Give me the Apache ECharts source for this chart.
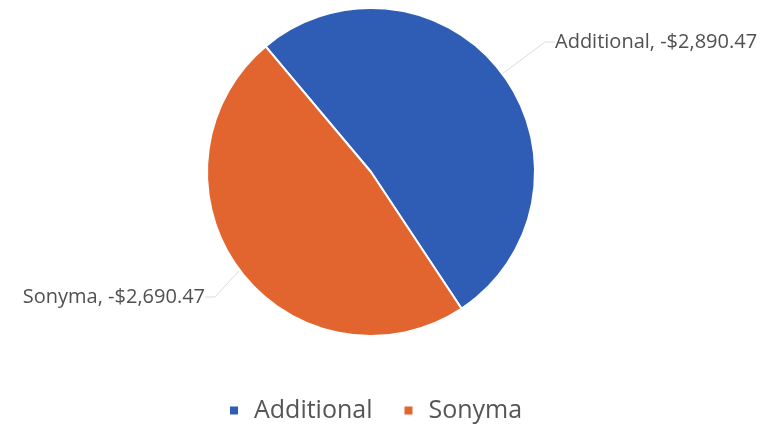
<!DOCTYPE html>
<html>
<head>
<meta charset="utf-8">
<script src="https://cdn.jsdelivr.net/npm/echarts@6/dist/echarts.min.js"></script>
<style>
  html, body { margin: 0; padding: 0; background: #ffffff; }
  #chart { width: 783px; height: 429px; }
</style>
</head>
<body>
<div id="chart"></div>
<script>
// Balance by account
const categories = ['Additional', 'Sonyma'];
const balances = [-2890.47, -2690.47];
const colors = ['#2f5cb4', '#e2652f'];

const money = v => (v < 0 ? '-' : '') + '$' +
  Math.abs(v).toLocaleString('en-US', { minimumFractionDigits: 2, maximumFractionDigits: 2 });

// Slice sizes use the magnitude; labels keep the signed amount
const pieData = categories.map((name, i) => ({
  name,
  value: Math.abs(balances[i]),
  signed: balances[i],
  itemStyle: { color: colors[i] }
}));

// Where each data label sits beside the pie
const labelSpots = [
  { x: 555, y: 42, align: 'left' },
  { x: 205, y: 297, align: 'right' }
];

const chart = echarts.init(document.getElementById('chart'), null, { renderer: 'canvas' });
chart.setOption({
  backgroundColor: '#ffffff',
  animation: false,
  legend: {
    data: categories,
    left: 228,
    top: 398,
    padding: 0,
    icon: 'rect',
    itemWidth: 10,
    itemHeight: 10,
    itemGap: 30,
    textStyle: { fontFamily: 'Open Sans', fontSize: 25, color: '#555555', padding: [0, 0, 0, 10] }
  },
  series: [{
    type: 'pie',
    center: [371, 172],
    radius: 164,
    startAngle: 130,
    clockwise: true,
    data: pieData,
    itemStyle: { borderColor: '#ffffff', borderWidth: 2 },
    label: {
      show: true,
      position: 'outside',
      fontFamily: 'Open Sans',
      fontSize: 20,
      color: '#505050',
      formatter: p => p.name + ', ' + money(p.data.signed)
    },
    labelLine: {
      show: true,
      length: 12,
      length2: 10,
      lineStyle: { color: '#dddddd', width: 1 }
    },
    labelLayout: p => ({
      x: labelSpots[p.dataIndex].x,
      y: labelSpots[p.dataIndex].y,
      align: labelSpots[p.dataIndex].align,
      verticalAlign: 'middle'
    }),
    emphasis: { disabled: true }
  }]
});
</script>
</body>
</html>
